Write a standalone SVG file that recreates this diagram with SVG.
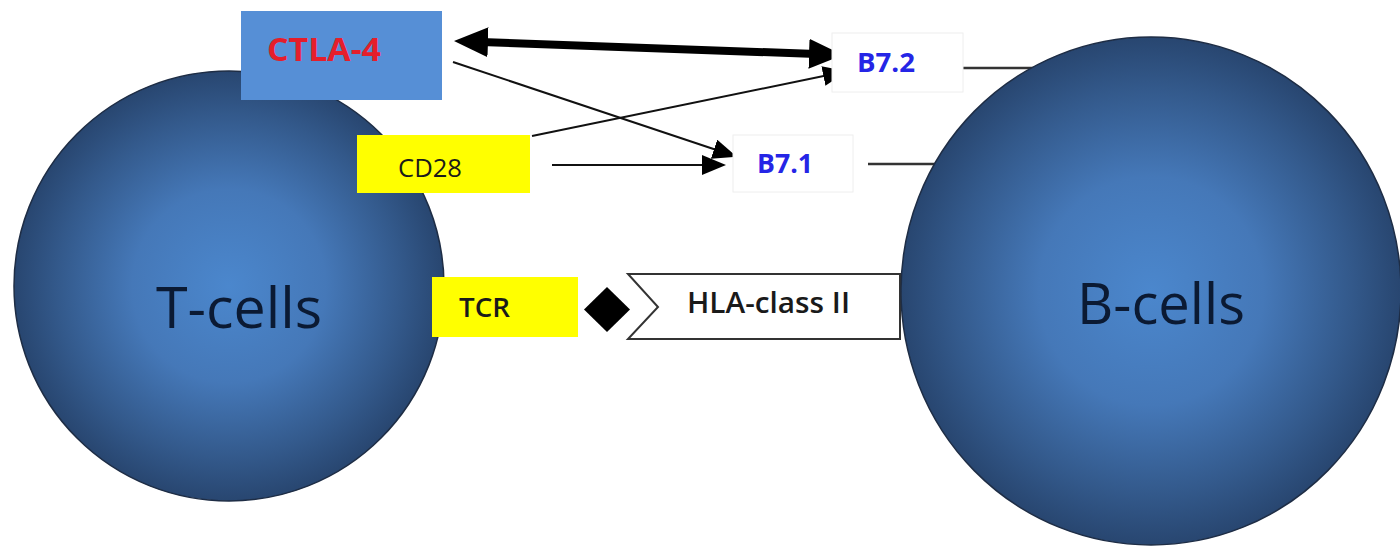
<svg xmlns="http://www.w3.org/2000/svg" width="1400" height="551" viewBox="0 0 1400 551">
  <defs>
    <radialGradient id="cellGrad" cx="50%" cy="50%" r="50%">
      <stop offset="0%" stop-color="#4b87cd"/>
      <stop offset="45%" stop-color="#4578b8"/>
      <stop offset="80%" stop-color="#33598b"/>
      <stop offset="100%" stop-color="#284670"/>
    </radialGradient>
    <marker id="thickHead" viewBox="0 0 34 30" refX="14" refY="15" markerWidth="34" markerHeight="30" markerUnits="userSpaceOnUse" orient="auto-start-reverse">
      <path d="M0,0 L34,15 L0,30 z" fill="#000"/>
    </marker>
    <marker id="thinHead" viewBox="0 0 24 20" refX="20" refY="10" markerWidth="24" markerHeight="20" markerUnits="userSpaceOnUse" orient="auto">
      <path d="M0,0 L24,10 L0,20 z" fill="#000"/>
    </marker>
    <style>
      .cell { fill: url(#cellGrad); stroke: #1e2d45; stroke-width: 1.5; }
      .cellText { font-family: "Open Sans", "Noto Sans", sans-serif; font-size: 56px; fill: #0b1a33; text-anchor: middle; }
      .yellow { fill: #ffff00; }
      .molText { font-family: "Open Sans", "Noto Sans", sans-serif; fill: #1a1a1a; }
      .bBox { fill: #ffffff; stroke: #eeeeee; stroke-width: 1; }
      .bText { font-family: "Open Sans", "Noto Sans", sans-serif; font-weight: bold; font-size: 27px; fill: #2525e6; }
      .thin { stroke: #111; stroke-width: 2; fill: none; marker-end: url(#thinHead); }
      .tether { stroke: #333; stroke-width: 2.5; fill: none; }
    </style>
  </defs>
  <rect width="1400" height="551" fill="#ffffff"/>

  <g id="t-cells">
    <circle class="cell" cx="229" cy="286" r="215"/>
    <text class="cellText" x="239" y="328" textLength="166" lengthAdjust="spacingAndGlyphs">T-cells</text>
  </g>

  <g id="hla-class-ii">
    <polygon points="628,274 900,274 900,339 628,339 658,307" fill="#ffffff" stroke="#333" stroke-width="2"/>
    <text class="molText" x="687" y="313" font-size="29" font-weight="600" textLength="163" lengthAdjust="spacingAndGlyphs">HLA-class II</text>
  </g>

  <g id="connectors">
    <line x1="474" y1="41.7" x2="823" y2="54.3" stroke="#000" stroke-width="8" marker-start="url(#thickHead)" marker-end="url(#thickHead)"/>
    <line class="thin" x1="453" y1="62" x2="733" y2="155.5"/>
    <line class="thin" x1="532" y1="136" x2="843" y2="72"/>
    <line class="thin" x1="552" y1="165" x2="722" y2="165"/>
    <line class="tether" x1="960" y1="68" x2="1040" y2="68"/>
    <line class="tether" x1="868" y1="164" x2="945" y2="164"/>
    <polygon id="binding" points="607,287 630,309.5 607,332 584,309.5" fill="#000"/>
  </g>

  <g id="b-cells">
    <ellipse class="cell" cx="1151" cy="291" rx="250" ry="254"/>
    <text class="cellText" x="1161" y="324" textLength="168" lengthAdjust="spacingAndGlyphs">B-cells</text>
  </g>

  <g id="ctla-4">
    <rect x="241" y="11" width="201" height="89" fill="#568fd6"/>
    <text x="267" y="61" font-family="'Open Sans', 'Noto Sans', sans-serif" font-weight="bold" font-size="33" fill="#e51e2b" textLength="114" lengthAdjust="spacingAndGlyphs">CTLA-4</text>
  </g>

  <g id="cd28">
    <rect class="yellow" x="357" y="135" width="173" height="58"/>
    <text class="molText" x="398" y="177" font-size="26" textLength="64" lengthAdjust="spacingAndGlyphs">CD28</text>
  </g>

  <g id="tcr">
    <rect class="yellow" x="432" y="277" width="146" height="60"/>
    <text class="molText" x="459" y="317" font-size="27" font-weight="600" textLength="51" lengthAdjust="spacingAndGlyphs">TCR</text>
  </g>

  <g id="b7-2">
    <rect class="bBox" x="832" y="33" width="131" height="59"/>
    <text class="bText" x="857" y="72" textLength="58" lengthAdjust="spacingAndGlyphs">B7.2</text>
  </g>

  <g id="b7-1">
    <rect class="bBox" x="733" y="135" width="120" height="57"/>
    <text class="bText" x="757" y="173" textLength="56" lengthAdjust="spacingAndGlyphs">B7.1</text>
  </g>
</svg>
